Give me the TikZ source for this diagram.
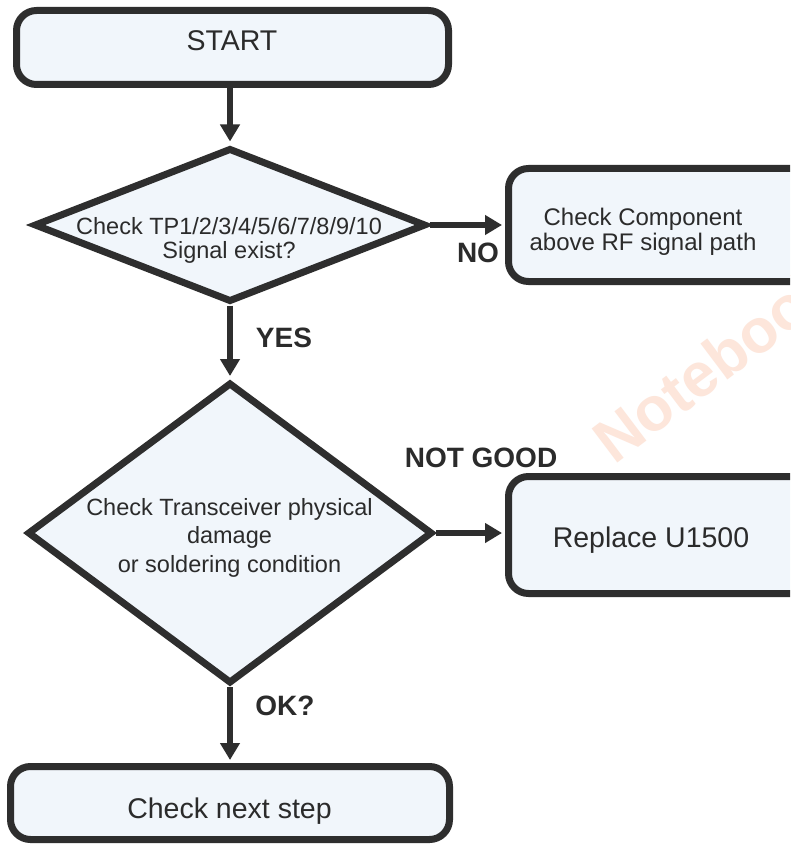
\documentclass[tikz,border=0pt]{standalone}
\usepackage{fontspec}
\setmainfont{Liberation Sans}
\usetikzlibrary{arrows.meta,shapes.geometric}
\definecolor{stk}{HTML}{2E2E2E}
\definecolor{fil}{HTML}{F1F6FB}
\definecolor{txt}{HTML}{2B2B2B}
\definecolor{wm}{HTML}{FDE6DB}
\begin{document}
\begin{tikzpicture}[x=1pt,y=-1pt,
  box/.style={draw=stk, fill=fil, line width=7pt, rounded corners=20pt, rectangle, inner sep=0pt},
  dia/.style={draw=stk, fill=fil, line width=7pt, diamond, inner sep=0pt},
  bigtxt/.style={text=txt, inner sep=0pt, anchor=base, align=center, font=\fontsize{28.5}{32}\selectfont},
  midtxt/.style={text=txt, inner sep=0pt, anchor=base, align=center},
  lbl/.style={text=txt, inner sep=0pt, anchor=base, font=\bfseries\fontsize{28}{32}\selectfont},
  arr/.style={draw=stk, line width=6.5pt, shorten >=3pt, -{Triangle[length=17pt,width=19pt]}},
  ]
\useasboundingbox (0,0) rectangle (790,845);
\clip (0,0) rectangle (790,845);
\fill[white] (0,0) rectangle (790,845);
% watermark
\node[anchor=base west, rotate=37, text=wm, inner sep=0pt, font=\bfseries\fontsize{62}{62}\selectfont] (wmk) at (614,466) {Notebook};
% shapes
\node[box, minimum width=432pt, minimum height=74pt] (start) at (232.5,47.5) {};
\node[dia, minimum width=392pt, minimum height=154pt] (d1) at (230,225) {};
\node[box, minimum width=311.5pt, minimum height=113pt] (chk) at (664.25,225) {};
\node[dia, minimum width=405pt, minimum height=301pt] (d2) at (230,533) {};
\node[box, minimum width=311.5pt, minimum height=117pt] (rep) at (664.25,535) {};
\node[box, minimum width=439pt, minimum height=73pt] (nxt) at (230,803) {};
% texts
\node[bigtxt] (tstart) at (232,51) {START};
\node[midtxt, font=\fontsize{23.5}{23.5}\selectfont] (td1) at (229,258) {Check TP1/2/3/4/5/6/7/8/9/10\\Signal exist?};
\node[midtxt, font=\fontsize{24}{25}\selectfont] (tchk) at (643,250) {Check Component\\above RF signal path};
\node[midtxt, font=\fontsize{23.5}{28.5}\selectfont] (td2) at (229.5,572) {Check Transceiver physical\\damage\\or soldering condition};
\node[bigtxt] (trep) at (651,547) {Replace U1500};
\node[bigtxt] (tnxt) at (229.5,818) {Check next step};
% connectors
\draw[arr] (start.south -| d1.north) -- (d1.north);
\draw[arr] (d1.east) -- (chk.west);
\draw[arr] (d1.south) -- (d2.north);
\draw[arr] (d2.east) -- (d2.east -| rep.west);
\draw[arr] (d2.south) -- (nxt.north);
% labels
\node[lbl] (lno) at (478,262) {NO};
\node[lbl] (lyes) at (284,347) {YES};
\node[lbl] (lng) at (481,467) {NOT GOOD};
\node[lbl] (lok) at (285,715) {OK?};
\end{tikzpicture}
\end{document}
